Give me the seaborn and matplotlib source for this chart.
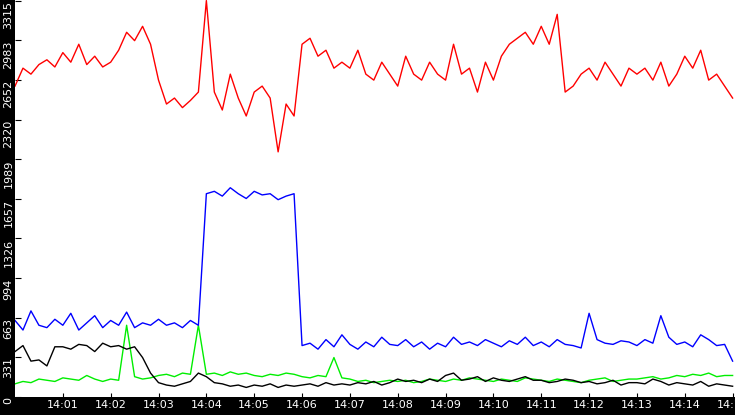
import numpy as np
import pandas as pd
import matplotlib
matplotlib.use("Agg")
import matplotlib.pyplot as plt
import seaborn as sns

red = [2600,2750,2700,2780,2820,2760, 2880,2800,2950,2780,2850,2760, 2800,2900,3050,2980,3100,2950,
       2650,2450,2500,2420,2480,2550, 3315,2550,2400,2700,2500,2350, 2550,2600,2500,2050,2450,2350,
       2950,3000,2850,2900,2750,2800, 2750,2900,2700,2650,2800,2700, 2600,2850,2700,2650,2800,2700,
       2650,2950,2700,2750,2550,2800, 2650,2850,2950,3000,3050,2950, 3100,2950,3200,2550,2600,2700,
       2750,2650,2800,2700,2600,2750, 2700,2750,2650,2800,2600,2700, 2850,2750,2900,2650,2700,2600, 2500]
blue = [640,560,720,600,580,650, 600,700,560,620,680,580, 640,600,710,580,620,600,
        650,600,620,580,640,600, 1700,1720,1680,1750,1700,1660, 1720,1690,1700,1650,1680,1700,
        430,450,400,480,420,520, 440,400,460,420,500,440, 430,480,420,460,400,450,
        420,500,440,460,430,480, 450,420,470,440,500,430, 460,420,480,440,430,410,
        700,480,450,440,470,460, 430,480,450,680,500,440, 460,420,520,480,430,440, 300]
black = [380,430,300,310,260,420, 420,400,440,430,380,450, 420,430,400,420,330,200,
         120,100,90,110,130,200, 170,120,110,90,100,80, 100,90,110,80,100,90,
         100,110,90,120,100,110, 100,120,110,130,100,120, 150,130,140,120,150,130,
         180,200,140,150,170,130, 160,140,130,150,170,140, 140,120,130,150,140,120,
         130,110,120,140,100,120, 120,110,150,130,100,120, 110,100,130,90,110,100, 90]
green = [110,130,120,150,140,130, 160,150,140,180,150,130, 150,140,600,170,150,160,
         180,190,170,200,190,600, 190,200,180,210,190,200, 180,170,190,180,200,190,
         170,160,180,170,330,160, 150,130,140,120,130,140, 130,140,120,130,150,140,
         130,150,140,160,150,140, 130,150,140,130,160,150, 140,130,150,140,130,120,
         140,150,160,130,140,150, 150,160,170,150,160,180, 170,190,180,200,170,180, 180]
minutes = [i / 6 for i in range(len(red))]
yticks = [0, 331, 663, 994, 1326, 1657, 1989, 2320, 2652, 2983, 3315]
xtick_labels = ["14:01","14:02","14:03","14:04","14:05","14:06","14:07","14:08",
                "14:09","14:10","14:11","14:12","14:13","14:14","14:15"]

df = pd.concat([pd.DataFrame({"t": minutes, "v": s, "series": n})
                for n, s in [("red", red), ("blue", blue), ("black", black), ("green", green)]])

fig = plt.figure(figsize=(7.35, 4.15), dpi=100, facecolor="black")
ax = fig.add_axes([15/735, 18/415, 720/735, 397/415])
ax.set_facecolor("white")
sns.lineplot(data=df, x="t", y="v", hue="series",
             palette={"red": "#ff0000", "blue": "#0000ff", "black": "#000000", "green": "#00ee00"},
             hue_order=["green", "black", "blue", "red"], linewidth=1, legend=False, ax=ax)
ax.set_xlim(0, 15.05)
ax.set_ylim(0, 3320)
ax.set_yticks(yticks)
ax.set_yticklabels([str(y) for y in yticks], rotation=90, va="top", color="white", fontsize=8)
ax.set_xticks(range(1, 16))
ax.set_xticklabels(xtick_labels, color="white", fontsize=8)
ax.tick_params(axis="y", direction="in", labelcolor="white", color="black", length=4, pad=1)
ax.tick_params(axis="x", direction="in", labelcolor="white", color="black", length=3, pad=2)
ax.set_xlabel("")
ax.set_ylabel("")
for s in ax.spines.values():
    s.set_visible(False)
fig.savefig("out.png", dpi=100, facecolor="black")
